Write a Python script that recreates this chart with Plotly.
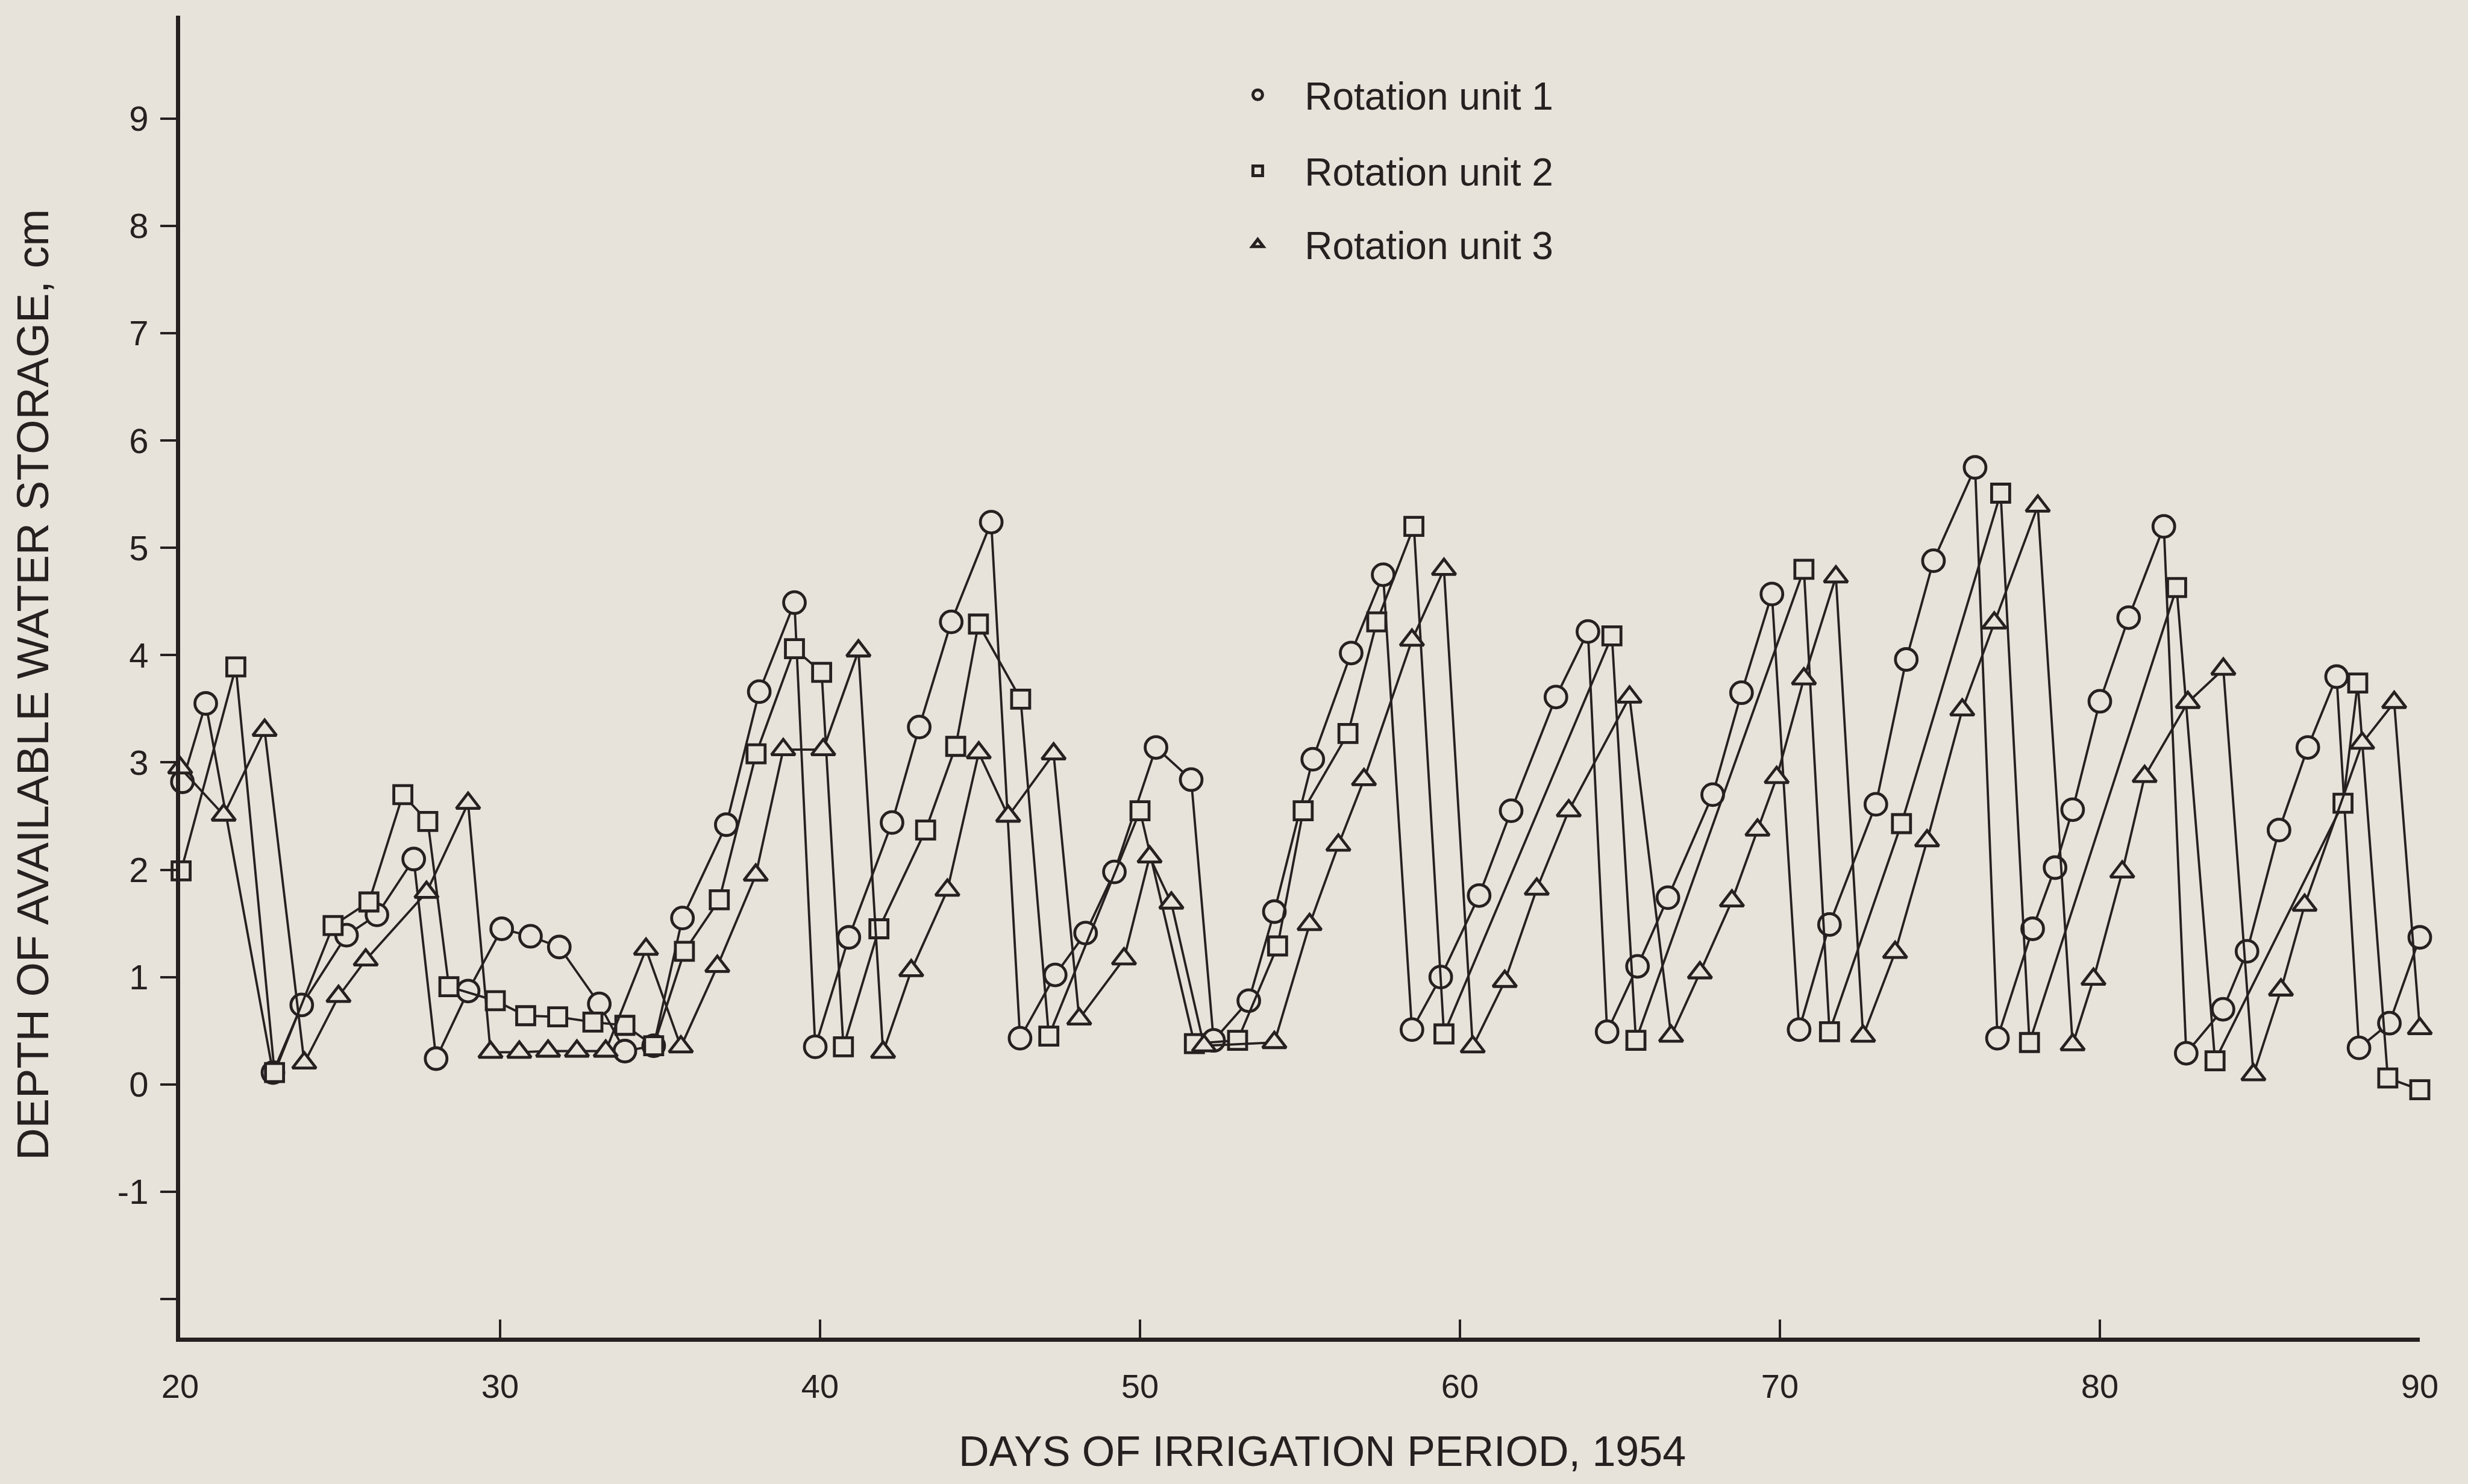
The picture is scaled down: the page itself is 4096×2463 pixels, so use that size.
import plotly.graph_objects as go

# ---------------- data ----------------
unit1_day = [20.07, 20.8, 22.9, 23.8, 25.2, 26.15, 27.3,
             28.0, 29.0, 30.05, 30.95, 31.85, 33.1, 33.9,
             34.8, 35.7, 37.07, 38.1, 39.2,
             39.85, 40.9, 42.25, 43.1, 44.1, 45.35,
             46.25, 47.35, 48.3, 49.2, 50.5, 51.6,
             52.3, 53.4, 54.2, 55.4, 56.6, 57.6,
             58.5, 59.4, 60.6, 61.6, 63.0, 64.0,
             64.6, 65.55, 66.5, 67.9, 68.8, 69.75,
             70.6, 71.55, 73.0, 73.95, 74.8, 76.1,
             76.8, 77.9, 78.6, 79.15, 80.0, 80.9, 82.0,
             82.7, 83.85, 84.6, 85.6, 86.5, 87.4,
             88.1, 89.05, 90.0]
unit1_val = [2.82, 3.55, 0.11, 0.74, 1.39, 1.58, 2.1,
             0.24, 0.87, 1.45, 1.38, 1.28, 0.75, 0.31,
             0.36, 1.55, 2.42, 3.66, 4.49,
             0.35, 1.37, 2.44, 3.33, 4.31, 5.24,
             0.43, 1.02, 1.41, 1.98, 3.14, 2.84,
             0.41, 0.78, 1.61, 3.03, 4.02, 4.75,
             0.51, 1.0, 1.76, 2.55, 3.61, 4.22,
             0.49, 1.1, 1.74, 2.7, 3.65, 4.57,
             0.51, 1.49, 2.61, 3.96, 4.88, 5.75,
             0.43, 1.45, 2.02, 2.56, 3.57, 4.35, 5.2,
             0.29, 0.7, 1.24, 2.37, 3.14, 3.8,
             0.34, 0.57, 1.37]

unit2_day = [20.03, 21.74, 22.95, 24.78, 25.9, 26.96, 27.74,
             28.4, 29.85, 30.8, 31.8, 32.9, 33.9, 34.8,
             35.76, 36.85, 38.0, 39.2, 40.05, 40.73,
             41.84, 43.3, 44.24, 44.95, 46.27, 47.15,
             50.0, 51.7, 53.05, 54.3, 55.1, 56.5,
             57.4, 58.56, 59.5, 64.75, 65.5, 70.75,
             71.55, 73.8, 76.9, 77.8, 82.4, 83.6,
             87.6, 88.06, 89.0, 90.0]
unit2_val = [1.99, 3.89, 0.11, 1.48, 1.7, 2.7, 2.45,
             0.91, 0.78, 0.64, 0.63, 0.58, 0.55, 0.36,
             1.24, 1.72, 3.08, 4.06, 3.84, 0.35,
             1.45, 2.37, 3.15, 4.29, 3.59, 0.45,
             2.55, 0.38, 0.41, 1.29, 2.55, 3.27,
             4.31, 5.2, 0.47, 4.18, 0.41, 4.8,
             0.49, 2.43, 5.51, 0.39, 4.63, 0.22,
             2.62, 3.74, 0.06, -0.05]

unit3_day = [20.0, 21.36, 22.64, 23.88, 24.95, 25.8, 27.7,
             29.0, 29.7, 30.6, 31.5, 32.4, 33.3, 34.56,
             35.65, 36.79, 37.99, 38.85, 40.1, 41.2,
             41.97, 42.85, 43.98, 44.96, 45.88, 47.3,
             48.1, 49.5, 50.3, 50.98, 52.0, 54.2,
             55.3, 56.2, 57.0, 58.5, 59.5, 60.4,
             61.4, 62.4, 63.4, 65.3, 66.6, 67.5,
             68.5, 69.3, 69.9, 70.75, 71.75, 72.6,
             73.6, 74.6, 75.7, 76.7, 78.06, 79.15,
             79.8, 80.7, 81.4, 82.75, 83.86, 84.8,
             85.66, 86.4, 88.2, 89.2, 90.0]
unit3_val = [2.95, 2.51, 3.3, 0.2, 0.82, 1.16, 1.79,
             2.62, 0.3, 0.3, 0.31, 0.31, 0.31, 1.26,
             0.35, 1.1, 1.95, 3.12, 3.12, 4.04,
             0.3, 1.06, 1.81, 3.09, 2.5, 3.08,
             0.61, 1.17, 2.12, 1.69, 0.36, 0.39,
             1.49, 2.23, 2.84, 4.14, 4.8, 0.35,
             0.96, 1.82, 2.55, 3.61, 0.45, 1.04,
             1.71, 2.37, 2.86, 3.78, 4.73, 0.45,
             1.23, 2.27, 3.49, 4.3, 5.39, 0.37,
             0.98, 1.98, 2.87, 3.56, 3.87, 0.09,
             0.88, 1.67, 3.18, 3.56, 0.52]

series_names = ["Rotation unit 1", "Rotation unit 2", "Rotation unit 3"]
x_ticks = [20, 30, 40, 50, 60, 70, 80, 90]
y_ticks = [-2, -1, 0, 1, 2, 3, 4, 5, 6, 7, 8, 9]
y_tick_text = ["", "-1", "0", "1", "2", "3", "4", "5", "6", "7", "8", "9"]
x_title = "DAYS OF IRRIGATION PERIOD, 1954"
y_title = "DEPTH OF AVAILABLE WATER STORAGE, cm"

# ---------------- style ----------------
BG = "#e8e3da"
INK = "#262020"
FONT = "Liberation Sans, Arial, sans-serif"

symbols = ["circle", "square", "triangle-up"]
sizes = [36, 30, 34]
days = [unit1_day, unit2_day, unit3_day]
vals = [unit1_val, unit2_val, unit3_val]

fig = go.Figure()
for d, v, sym, sz in zip(days, vals, symbols, sizes):
    fig.add_trace(go.Scatter(
        x=d, y=v, mode="lines+markers",
        line=dict(color=INK, width=3.8),
        marker=dict(symbol=sym, size=sz, color=BG, line=dict(color=INK, width=4.8)),
        showlegend=False, cliponaxis=False, hoverinfo="skip"))

legend_ids = ["legend", "legend2", "legend3"]
for name, sym, lid in zip(series_names, symbols, legend_ids):
    fig.add_trace(go.Scatter(
        x=[None], y=[None], mode="markers", name="\u00a0" + name,
        marker=dict(symbol=sym, size=16, color=BG, line=dict(color=INK, width=5)),
        showlegend=True, legend=lid))

leg_common = dict(xanchor="left", yanchor="middle", bgcolor="rgba(0,0,0,0)",
                  font=dict(size=64, color=INK, family=FONT), itemwidth=110,
                  borderwidth=0)

fig.update_layout(
    width=4096, height=2463,
    margin=dict(l=299, r=80, t=26, b=243),
    paper_bgcolor=BG, plot_bgcolor=BG,
    font=dict(family=FONT, color=INK),
    legend=dict(x=0.465, y=0.940, **leg_common),
    legend2=dict(x=0.465, y=0.8825, **leg_common),
    legend3=dict(x=0.465, y=0.827, **leg_common),
    xaxis=dict(range=[20, 90], tickvals=x_ticks, ticks="inside", ticklen=30,
               tickwidth=4, tickcolor=INK, showline=True, linewidth=7,
               linecolor=INK, showgrid=False, zeroline=False,
               tickfont=dict(size=56, color=INK, family=FONT),
               ticklabelstandoff=26),
    yaxis=dict(range=[-2.36, 9.96], tickvals=y_ticks, ticktext=y_tick_text,
               ticks="outside", ticklen=26, tickwidth=4, tickcolor=INK,
               showline=True, linewidth=7, linecolor=INK, showgrid=False,
               zeroline=False, tickfont=dict(size=58, color=INK, family=FONT),
               ticklabelstandoff=8),
    annotations=[
        dict(text=x_title, xref="paper", yref="paper", x=0.51, y=-0.086,
             xanchor="center", yanchor="middle", showarrow=False,
             font=dict(size=70, color=INK, family=FONT)),
        dict(text=y_title, xref="paper", yref="paper", x=-0.066, y=0.494,
             xanchor="center", yanchor="middle", showarrow=False, textangle=-90,
             font=dict(size=74, color=INK, family=FONT)),
    ],
)

fig.write_html("out.html")
